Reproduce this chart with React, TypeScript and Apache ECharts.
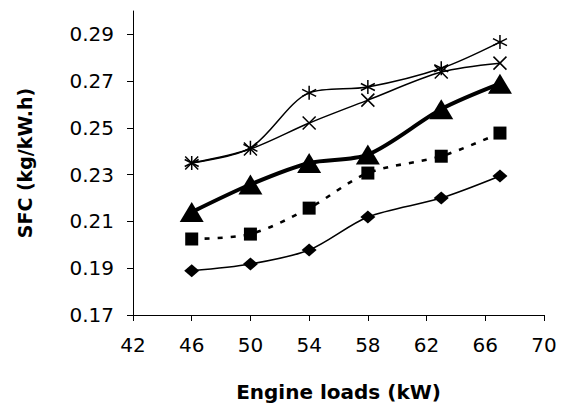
import React, { useEffect, useRef } from 'react';
import * as echarts from 'echarts';

const loads = [46, 50, 54, 58, 63, 67];
const sfcStar = [0.235, 0.2415, 0.265, 0.2675, 0.2755, 0.2867];
const sfcCross = [0.235, 0.241, 0.2521, 0.2619, 0.2739, 0.2777];
const sfcTriangle = [0.214, 0.2258, 0.235, 0.2386, 0.258, 0.2689];
const sfcSquare = [0.2025, 0.2046, 0.2157, 0.2307, 0.2379, 0.2478];
const sfcDiamond = [0.1889, 0.1918, 0.1978, 0.2119, 0.22, 0.2294];
const yTicks = [0.17, 0.19, 0.21, 0.23, 0.25, 0.27, 0.29];

const STAR = 'path://M5 0 L5 10 M0.7 2.5 L9.3 7.5 M0.7 7.5 L9.3 2.5';
const CROSS = 'path://M0 0 L10 10 M0 10 L10 0';

const pairs = (ys: number[]) => loads.map((x, i) => [x, ys[i]]);

export default function App() {
  const ref = useRef<HTMLDivElement>(null);
  useEffect(() => {
    if (!ref.current) return;
    const chart = echarts.init(ref.current, undefined, { renderer: 'svg' });
    const font = '"DejaVu Sans", "Liberation Sans", sans-serif';
    chart.setOption({
      animation: false,
      grid: { left: 133, right: 25, top: 11, bottom: 93 },
      xAxis: {
        type: 'value',
        min: 42,
        max: 70,
        interval: 4,
        name: 'Engine loads (kW)',
        nameLocation: 'middle',
        nameGap: 67,
        nameTextStyle: { fontFamily: font, fontWeight: 'bold', fontSize: 20, color: '#000' },
        axisLine: { lineStyle: { color: '#000', width: 1 } },
        axisTick: { length: 6, lineStyle: { color: '#000' } },
        axisLabel: { fontFamily: font, fontSize: 20, color: '#000', margin: 20 },
        splitLine: { show: false },
      },
      yAxis: {
        type: 'value',
        min: 0.17,
        max: 0.30,
        name: 'SFC (kg/kW.h)',
        nameLocation: 'middle',
        nameGap: 99,
        nameTextStyle: { fontFamily: font, fontWeight: 'bold', fontSize: 19, color: '#000' },
        axisLine: { show: true, lineStyle: { color: '#000', width: 1 } },
        axisTick: { show: true, length: 6, customValues: yTicks, lineStyle: { color: '#000' } },
        axisLabel: {
          fontFamily: font,
          fontSize: 20,
          color: '#000',
          margin: 19,
          customValues: yTicks,
          formatter: (v: number) => v.toFixed(2),
        },
        splitLine: { show: false },
      },
      series: [
        {
          type: 'line',
          data: pairs(sfcDiamond),
          smooth: 0.3,
          symbol: 'diamond',
          symbolSize: [15, 13],
          lineStyle: { color: '#000', width: 1.6 },
          itemStyle: { color: '#000' },
        },
        {
          type: 'line',
          data: pairs(sfcSquare),
          smooth: 0.3,
          symbol: 'rect',
          symbolSize: 13,
          lineStyle: { color: '#000', width: 2.6, type: [5, 8] },
          itemStyle: { color: '#000' },
        },
        {
          type: 'line',
          data: pairs(sfcCross),
          smooth: 0.3,
          symbol: CROSS,
          symbolSize: 13,
          lineStyle: { color: '#000', width: 1.5 },
          itemStyle: { color: '#000', borderColor: '#000', borderWidth: 1.5 },
        },
        {
          type: 'line',
          data: pairs(sfcStar),
          smooth: 0.3,
          symbol: STAR,
          symbolSize: 14,
          lineStyle: { color: '#000', width: 1.5 },
          itemStyle: { color: '#000', borderColor: '#000', borderWidth: 1.5 },
        },
        {
          type: 'line',
          data: pairs(sfcTriangle),
          smooth: 0.3,
          symbol: 'triangle',
          symbolSize: [24, 20],
          lineStyle: { color: '#000', width: 4 },
          itemStyle: { color: '#000' },
        },
      ],
    });
    return () => chart.dispose();
  }, []);
  return <div ref={ref} style={{ width: 569, height: 408, position: 'absolute', left: 0, top: 0 }} />;
}
